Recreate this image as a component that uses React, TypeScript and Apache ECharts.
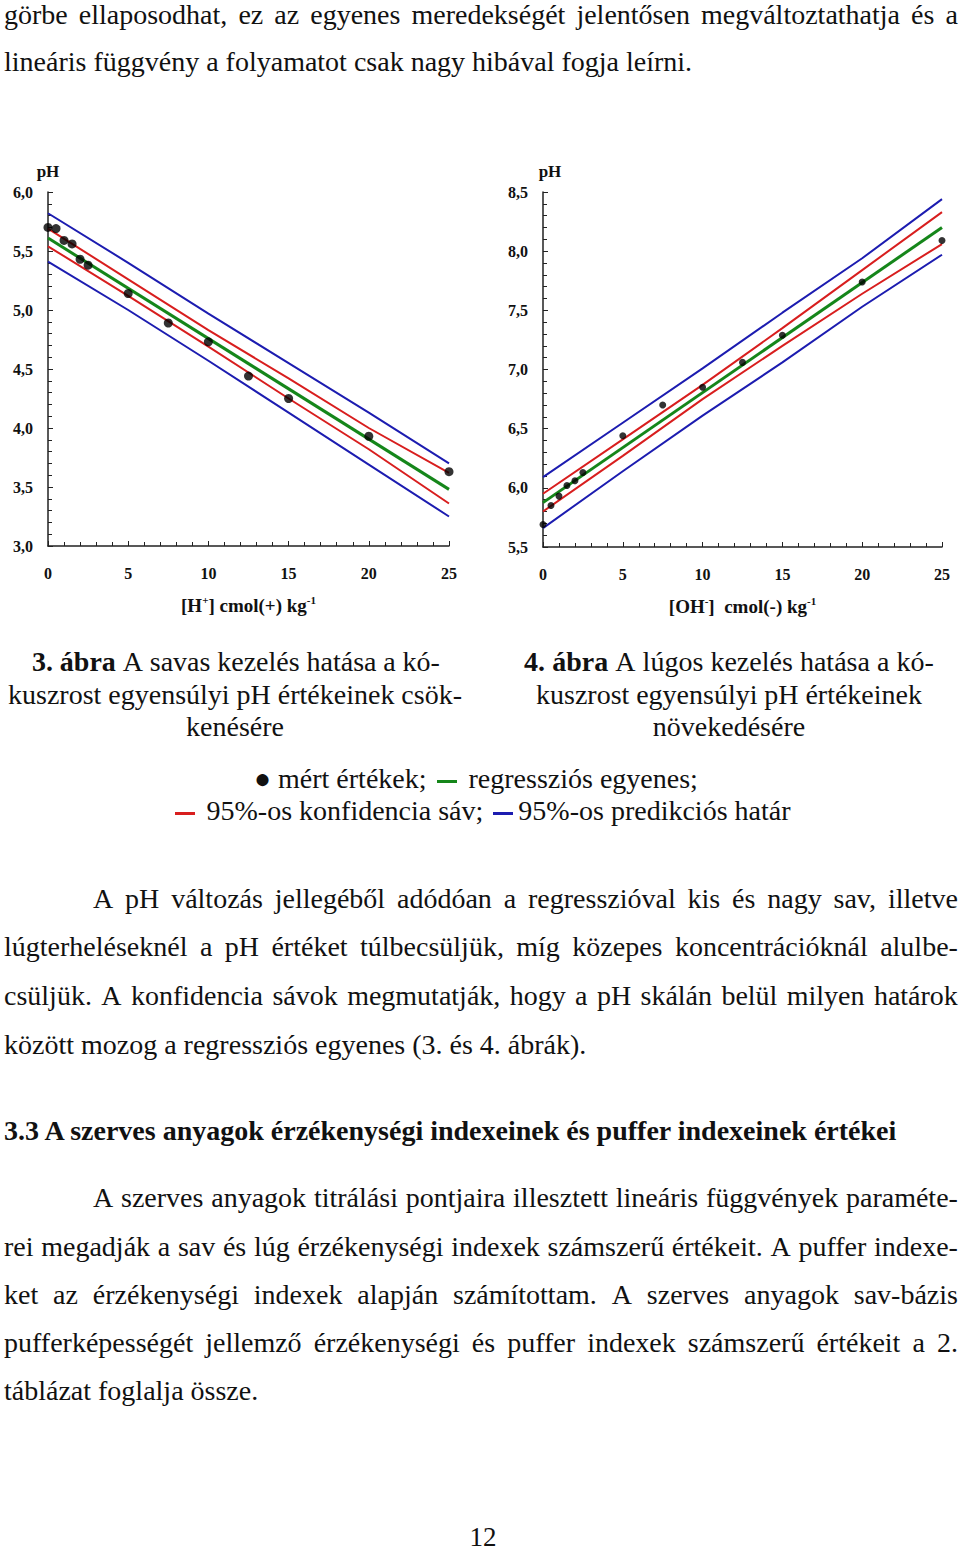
import React, { useEffect, useRef } from 'react';
import * as echarts from 'echarts';

// measured points
const ptX = [0, 0.5, 1, 1.5, 2, 2.5, 5, 7.5, 10, 12.5, 15, 20, 25];
const leftPH = [5.70, 5.69, 5.59, 5.56, 5.43, 5.38, 5.14, 4.89, 4.73, 4.44, 4.25, 3.93, 3.63];
const rightPH = [5.69, 5.85, 5.93, 6.02, 6.06, 6.13, 6.44, 6.70, 6.85, 7.06, 7.29, 7.74, 8.09];

// regression lines and bands
const regX = [0, 25];
const bandX = [0, 5, 10, 15, 20, 25];
const leftReg = [5.61, 3.48];
const leftConfUpper = [5.69, 5.26, 4.83, 4.42, 4.0, 3.62];
const leftConfLower = [5.54, 5.12, 4.69, 4.25, 3.82, 3.36];
const leftPredUpper = [5.82, 5.40, 4.97, 4.55, 4.13, 3.70];
const leftPredLower = [5.41, 5.0, 4.57, 4.13, 3.69, 3.25];
const rightReg = [5.875, 8.2];
const rightConfUpper = [5.95, 6.41, 6.87, 7.35, 7.84, 8.33];
const rightConfLower = [5.80, 6.27, 6.75, 7.20, 7.64, 8.06];
const rightPredUpper = [6.09, 6.55, 7.01, 7.48, 7.94, 8.44];
const rightPredLower = [5.66, 6.14, 6.61, 7.06, 7.53, 7.97];

const FONT = '"Liberation Serif", "Times New Roman", serif';
const BLUE = '#1c1cb0';
const RED = '#d81e1e';
const GREEN = '#15861a';

const pairs = (xs: number[], ys: number[]) => xs.map((x, i) => [x, ys[i]]);

function xAxisDef(gridIndex: number, name: string) {
  return {
    type: 'value', gridIndex, min: 0, max: 25, interval: 5,
    name, nameLocation: 'middle', nameGap: 48,
    nameTextStyle: {
      rich: {
        b: { fontFamily: FONT, fontWeight: 'bold', fontSize: 19, color: '#111', lineHeight: 22 },
        s: { fontFamily: FONT, fontWeight: 'bold', fontSize: 11, color: '#111', lineHeight: 11, verticalAlign: 'top' },
      },
    },
    axisLine: { show: true, lineStyle: { color: '#222', width: 1.5 } },
    axisTick: { show: true, inside: true, length: 5, lineStyle: { color: '#222' } },
    minorTick: { show: true, splitNumber: 5, length: 4, lineStyle: { color: '#222' } },
    splitLine: { show: false },
    axisLabel: { fontFamily: FONT, fontWeight: 'bold', fontSize: 16, color: '#111', margin: 19 },
  };
}

function yAxisDef(gridIndex: number, min: number, max: number, shift: number) {
  return {
    type: 'value', gridIndex, min, max, interval: 0.5,
    name: 'pH', nameLocation: 'end', nameGap: 12,
    nameTextStyle: {
      fontFamily: FONT, fontWeight: 'bold', fontSize: 17, color: '#111', align: 'center',
      padding: [0, 0, 0, shift],
    },
    axisLine: { show: true, lineStyle: { color: '#222', width: 1.5 } },
    axisTick: { show: true, inside: true, length: 5, lineStyle: { color: '#222' } },
    minorTick: { show: true, splitNumber: 5, length: 4, lineStyle: { color: '#222' } },
    splitLine: { show: false },
    axisLabel: {
      fontFamily: FONT, fontWeight: 'bold', fontSize: 16, color: '#111', margin: 15,
      formatter: (v: number) => v.toFixed(1).replace('.', ','),
    },
  };
}

function lineSeries(idx: number, xs: number[], ys: number[], color: string, width: number, name: string) {
  return {
    name, type: 'line', xAxisIndex: idx, yAxisIndex: idx, data: pairs(xs, ys),
    showSymbol: false, symbol: 'none', lineStyle: { color, width }, z: 2,
  };
}

function Chart() {
  const ref = useRef<HTMLDivElement>(null);
  useEffect(() => {
    const chart = echarts.init(ref.current!, undefined, { renderer: 'svg' });
    chart.setOption({
      animation: false,
      backgroundColor: 'transparent',
      grid: [
        { left: 48, top: 192, width: 401, height: 354 },
        { left: 543, top: 192, width: 399, height: 355 },
      ],
      xAxis: [
        xAxisDef(0, '{b|[H}{s|+}{b|] cmol(+) kg}{s|-1}'),
        xAxisDef(1, '{b|[OH}{s|-}{b|]  cmol(-) kg}{s|-1}'),
      ],
      yAxis: [yAxisDef(0, 3, 6, 0), yAxisDef(1, 5.5, 8.5, 14)],
      series: [
        lineSeries(0, bandX, leftPredUpper, BLUE, 2, 'pred+'),
        lineSeries(0, bandX, leftPredLower, BLUE, 2, 'pred-'),
        lineSeries(0, bandX, leftConfUpper, RED, 2, 'conf+'),
        lineSeries(0, bandX, leftConfLower, RED, 2, 'conf-'),
        lineSeries(0, regX, leftReg, GREEN, 3, 'reg'),
        {
          type: 'scatter', xAxisIndex: 0, yAxisIndex: 0, data: pairs(ptX, leftPH),
          symbol: 'circle', symbolSize: 9, itemStyle: { color: '#000' }, z: 5,
        },
        lineSeries(1, bandX, rightPredUpper, BLUE, 2, 'pred+'),
        lineSeries(1, bandX, rightPredLower, BLUE, 2, 'pred-'),
        lineSeries(1, bandX, rightConfUpper, RED, 2, 'conf+'),
        lineSeries(1, bandX, rightConfLower, RED, 2, 'conf-'),
        lineSeries(1, regX, rightReg, GREEN, 3, 'reg'),
        {
          type: 'scatter', xAxisIndex: 1, yAxisIndex: 1, data: pairs(ptX, rightPH),
          symbol: 'circle', symbolSize: 7, itemStyle: { color: '#000' }, z: 5,
        },
      ],
    });
    return () => chart.dispose();
  }, []);
  return <div ref={ref} style={{ position: 'absolute', left: 0, top: 0, width: 960, height: 640 }} />;
}

const baseStyle = (cy: number, bold?: boolean): React.CSSProperties => ({
  position: 'absolute', top: cy - 14, fontSize: 28, lineHeight: '28px',
  fontFamily: FONT, color: '#111', fontWeight: bold ? 'bold' : 'normal', whiteSpace: 'nowrap',
});

// plain (left / centered) line
function Line({ cy, left, width, center, bold, children }: {
  cy: number; left: number; width?: number; center?: boolean; bold?: boolean; children: React.ReactNode;
}) {
  const style = baseStyle(cy, bold);
  style.left = left;
  if (width !== undefined) style.width = width;
  if (center) style.textAlign = 'center';
  return <div style={style}>{children}</div>;
}

// justified line: words spread between left and left+width; "**" prefix marks bold words
function JLine({ cy, left, width, text }: { cy: number; left: number; width: number; text: string }) {
  const style = baseStyle(cy);
  style.left = left;
  style.width = width;
  style.display = 'flex';
  style.justifyContent = 'space-between';
  const words = text.split(' ');
  return (
    <div style={style}>
      {words.map((w, i) =>
        w.startsWith('**')
          ? <b key={i}>{w.slice(2)}</b>
          : <span key={i}>{w}</span>
      )}
    </div>
  );
}

const Dash = ({ color }: { color: string }) => (
  <span style={{ display: 'inline-block', width: 20, height: 3, background: color, verticalAlign: 'middle', margin: '0 5px 0 3px' }} />
);

export default function App() {
  return (
    <div style={{ position: 'absolute', left: 0, top: 0, width: 960, height: 1554, background: '#fff', overflow: 'hidden' }}>
      <Chart />
      <JLine cy={15} left={4} width={954} text="görbe ellaposodhat, ez az egyenes meredekségét jelentősen megváltoztathatja és a" />
      <Line cy={62} left={4}>lineáris függvény a folyamatot csak nagy hibával fogja leírni.</Line>

      <JLine cy={662} left={32} width={408} text="**3. **ábra A savas kezelés hatása a kó-" />
      <JLine cy={695} left={8} width={454} text="kuszrost egyensúlyi pH értékeinek csök-" />
      <Line cy={727} left={0} width={470} center>kenésére</Line>

      <JLine cy={662} left={524} width={410} text="**4. **ábra A lúgos kezelés hatása a kó-" />
      <JLine cy={695} left={536} width={386} text="kuszrost egyensúlyi pH értékeinek" />
      <Line cy={727} left={490} width={478} center>növekedésére</Line>

      <Line cy={779} left={0} width={952} center>● mért értékek; <Dash color={GREEN} /> regressziós egyenes;</Line>
      <Line cy={811} left={0} width={962} center><Dash color={RED} /> 95%-os konfidencia sáv; <Dash color={BLUE} />95%-os predikciós határ</Line>

      <JLine cy={899} left={93} width={865} text="A pH változás jellegéből adódóan a regresszióval kis és nagy sav, illetve" />
      <JLine cy={947} left={4} width={954} text="lúgterheléseknél a pH értéket túlbecsüljük, míg közepes koncentrációknál alulbe-" />
      <JLine cy={996} left={4} width={954} text="csüljük. A konfidencia sávok megmutatják, hogy a pH skálán belül milyen határok" />
      <Line cy={1045} left={4}>között mozog a regressziós egyenes (3. és 4. ábrák).</Line>

      <Line cy={1131} left={4} bold>3.3 A szerves anyagok érzékenységi indexeinek és puffer indexeinek értékei</Line>

      <JLine cy={1198} left={93} width={865} text="A szerves anyagok titrálási pontjaira illesztett lineáris függvények paraméte-" />
      <JLine cy={1247} left={4} width={954} text="rei megadják a sav és lúg érzékenységi indexek számszerű értékeit. A puffer indexe-" />
      <JLine cy={1295} left={4} width={954} text="ket az érzékenységi indexek alapján számítottam. A szerves anyagok sav-bázis" />
      <JLine cy={1343} left={4} width={954} text="pufferképességét jellemző érzékenységi és puffer indexek számszerű értékeit a 2." />
      <Line cy={1391} left={4}>táblázat foglalja össze.</Line>

      <div style={{
        position: 'absolute', top: 1524, left: 440, width: 86, textAlign: 'center',
        fontSize: 27, lineHeight: '27px', fontFamily: FONT, color: '#111',
      }}>12</div>
    </div>
  );
}
